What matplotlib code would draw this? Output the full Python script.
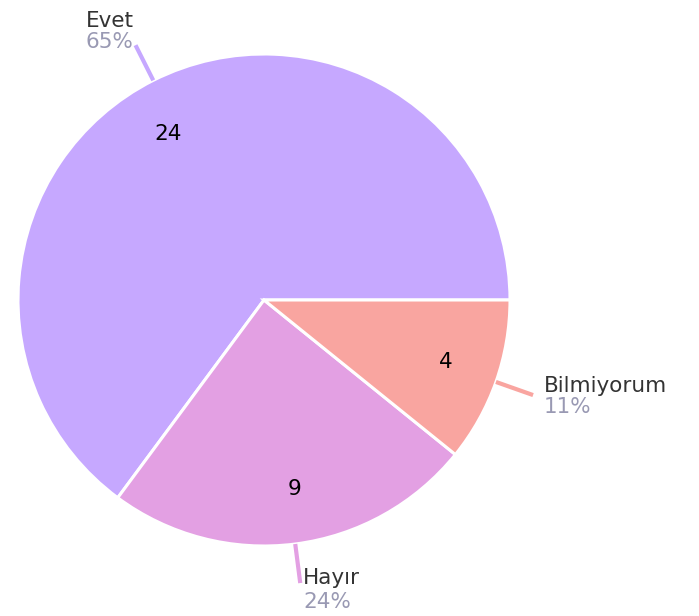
import matplotlib
matplotlib.use('Agg')
import matplotlib.pyplot as plt
import numpy as np

# данные
labels = ['Evet', 'Hayır', 'Bilmiyorum']
values = [24, 9, 4]
colors = ['#c6a8ff', '#e3a0e3', '#f9a5a0']

# смещения подписей (пиксели): dx, ha, dy названия, dy процента
label_style = [
    (-2, 'right', 18, -3),
    (3, 'left', -1, -25),
    (11, 'left', 3, -18),
]
# поворот подписей значений внутри секторов (градусы)
value_shift = [3.2, 2.0, 0.7]

W, H, DPI = 699, 616, 100
cx, cy, R = 264, 300, 246

fig = plt.figure(figsize=(W / DPI, H / DPI), dpi=DPI)
ax = fig.add_axes([0, 0, 1, 1])

wedges, texts = ax.pie(values, colors=colors, startangle=0, counterclock=True,
                       wedgeprops=dict(edgecolor='white', linewidth=2.2))

total = sum(values)
px = 1.0 / R  # один пиксель в единицах данных
for w, lab, val, st, sh in zip(wedges, labels, values, label_style, value_shift):
    mid = (w.theta1 + w.theta2) / 2
    ang = np.deg2rad(mid)
    c, s = np.cos(ang), np.sin(ang)
    # значение внутри
    va_ang = np.deg2rad(mid + sh)
    ax.text(0.78 * np.cos(va_ang), 0.78 * np.sin(va_ang), str(val),
            ha='center', va='center', fontsize=15.5, color='black')
    # линия-выноска
    ax.plot([1.0 * c, 1.16 * c], [1.0 * s, 1.16 * s], color=w.get_facecolor(),
            lw=3, solid_capstyle='butt')
    ex, ey = 1.16 * c, 1.16 * s
    dx, ha, dy_name, dy_pct = st
    ax.text(ex + dx * px, ey + dy_name * px, lab, ha=ha, va='baseline',
            fontsize=15.5, color='#333333')
    ax.text(ex + dx * px, ey + dy_pct * px, '%d%%' % round(val / total * 100),
            ha=ha, va='baseline', fontsize=15.5, color='#9999b3')

ax.set_aspect('auto')
ax.set_xlim(-cx / R, (W - cx) / R)
ax.set_ylim(-(H - cy) / R, cy / R)
ax.axis('off')

plt.savefig('out.png', dpi=DPI)
plt.close('all')
